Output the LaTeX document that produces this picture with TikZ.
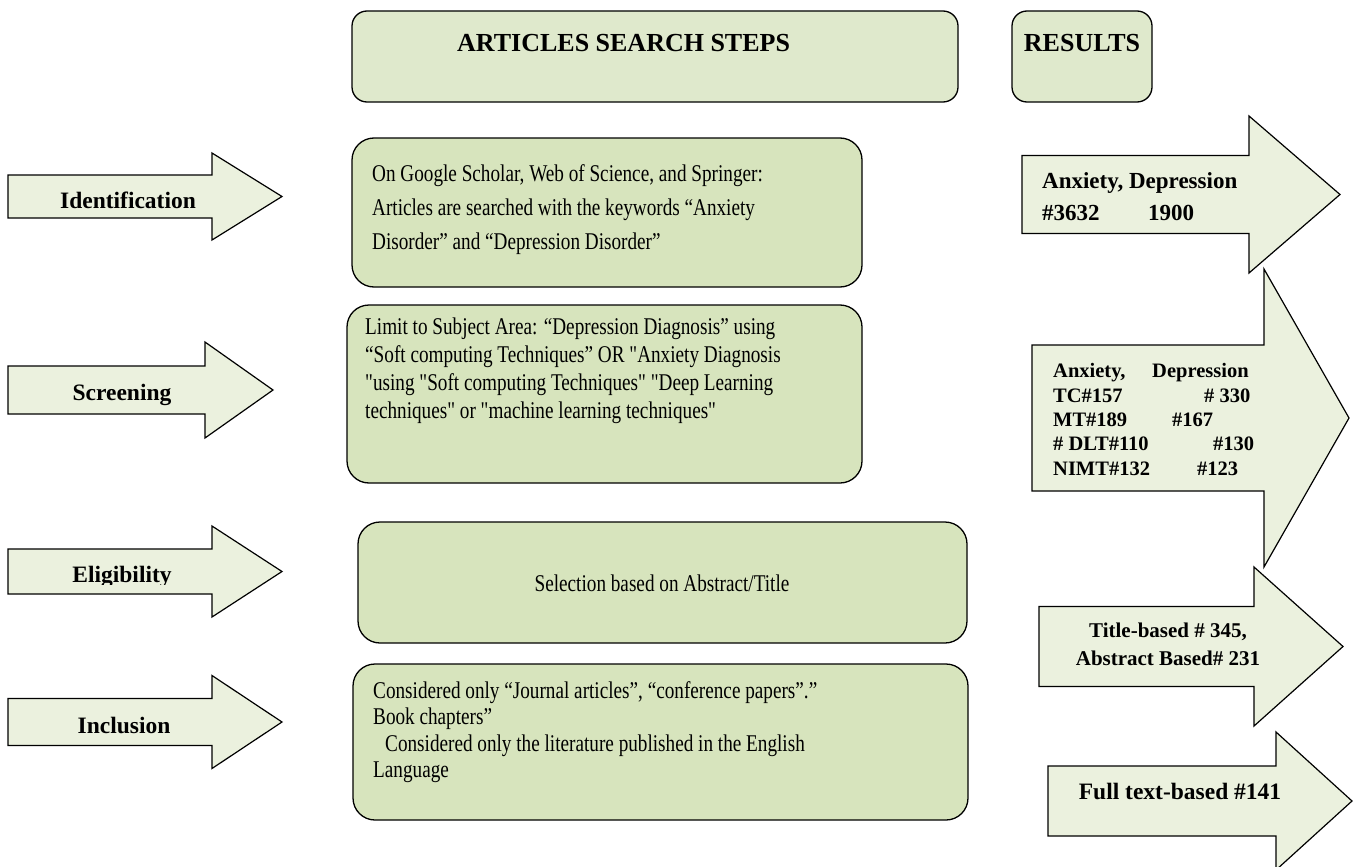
\documentclass[tikz,border=0pt]{standalone}
\usepackage{fontspec}
\setmainfont{Liberation Serif}
\newfontfamily\bodyfont{Liberation Serif}[FakeStretch=0.8]
\usetikzlibrary{positioning}

\definecolor{headgreen}{HTML}{DFE9CC}
\definecolor{boxgreen}{HTML}{D7E4BD}
\definecolor{arrowgreen}{HTML}{EBF1DE}

% block arrow: tail x, head base x, tip x, centre y, half shaft, half head
\newcommand{\blockarrow}[6]{%
  \draw[arrowshape] (#1,{#4-#5}) -- (#2,{#4-#5}) -- (#2,{#4-#6}) -- (#3,#4)
    -- (#2,{#4+#6}) -- (#2,{#4+#5}) -- (#1,{#4+#5}) -- cycle;}

\begin{document}
\begin{tikzpicture}[
      x=1pt,y=-1pt,
      headbox/.style = {draw,line width=1.3pt,rounded corners=15pt,fill=headgreen},
      stepbox/.style = {draw,line width=1.3pt,rounded corners=22pt,fill=boxgreen},
      arrowshape/.style = {draw,line width=1.2pt,fill=arrowgreen,line join=miter},
      steplabel/.style = {anchor=base,inner sep=0pt,font=\bfseries\fontsize{23.5}{26}\selectfont},
      resultlabel/.style = {inner sep=0pt,font=\bfseries\fontsize{21}{24}\selectfont},
      bodytext/.style = {anchor=north west,align=left,inner sep=0pt}
    ]
      \useasboundingbox (0,0) rectangle (1355,867);
      % headings
      \draw[headbox] (352,11) rectangle (958,102);
      \draw[headbox] (1012,11) rectangle (1152,102);
      \node (stepshead)[anchor=base west,inner sep=0pt,font=\bfseries\fontsize{26}{30}\selectfont] at (457,52) {ARTICLES SEARCH STEPS};
      \node (resultshead)[anchor=base,inner sep=0pt,font=\bfseries\fontsize{26}{30}\selectfont] at (1082,52) {RESULTS};
      % steps on the left
      \blockarrow{8}{212}{282}{196.5}{21.5}{43.5}
      \blockarrow{8}{205}{273}{390}{24}{48}
      \blockarrow{8}{212}{282}{571.5}{22.5}{45.5}
      \blockarrow{8}{212}{282}{722}{23.5}{46.5}
      \node (identification)[steplabel] at (128,208) {Identification};
      \node (screening)[steplabel] at (122,400) {Screening};
      \begin{scope}
        \clip (0,500) rectangle (300,584);
        \node (eligibility)[steplabel] at (122,582) {Eligibility};
      \end{scope}
      \node (inclusion)[steplabel] at (124,733) {Inclusion};
      % search steps
      \draw[stepbox] (352,138) rectangle (862,287);
      \draw[stepbox] (347,305) rectangle (862,483);
      \draw[stepbox] (358,522) rectangle (967,643);
      \draw[stepbox] (353,664) rectangle (968,820);
      \node (keywords)[bodytext,font=\bodyfont\fontsize{24}{34}\selectfont] at (372,164)
        {On Google Scholar, Web of Science, and Springer:\\
         Articles are searched with the keywords “Anxiety\\
         Disorder” and “Depression Disorder”};
      \node (subject)[bodytext,font=\bodyfont\fontsize{24}{28}\selectfont] at (365,318)
        {Limit to Subject Area: “Depression Diagnosis” using\\
         “Soft computing Techniques” OR "Anxiety Diagnosis\\
         "using "Soft computing Techniques" "Deep Learning\\
         techniques" or "machine learning techniques"};
      \node (selection)[inner sep=0pt,font=\bodyfont\fontsize{24}{28}\selectfont] at (662,583)
        {Selection based on Abstract/Title};
      \node (considered)[bodytext,font=\bodyfont\fontsize{24}{26.5}\selectfont] at (373,681)
        {Considered only “Journal articles”, “conference papers”.”\\
         Book chapters”\\
         \hspace*{12pt}Considered only the literature published in the English\\
         Language};
      % results on the right
      \blockarrow{1022}{1249}{1340}{194.5}{39}{78.5}
      \blockarrow{1032}{1264}{1349}{418}{73}{149}
      \blockarrow{1039}{1254}{1343}{646.5}{40}{79.5}
      \blockarrow{1048}{1276}{1352}{801}{35}{69}
      \node (found)[resultlabel,anchor=north west,align=left,font=\bfseries\fontsize{23}{32}\selectfont] at (1042,172.5)
        {Anxiety, Depression\\ \makebox[106pt][l]{\#3632}1900};
      \node (screened)[resultlabel,anchor=north west,align=left,font=\bfseries\fontsize{20.5}{24.3}\selectfont] at (1053,363.5)
        {\makebox[99pt][l]{Anxiety,}Depression\\
         \makebox[151pt][l]{TC\#157}\# 330\\
         \makebox[119pt][l]{MT\#189}\#167\\
         \makebox[160pt][l]{\# DLT\#110}\#130\\
         \makebox[144pt][l]{NIMT\#132}\#123};
      \node (selected)[resultlabel,anchor=north,align=center,font=\bfseries\fontsize{21}{28}\selectfont] at (1168,623)
        {Title-based \# 345,\\ Abstract Based\# 231};
      \node (fulltext)[resultlabel,anchor=base,font=\bfseries\fontsize{23.5}{26}\selectfont] at (1180,799)
        {Full text-based \#141};
    \end{tikzpicture}
\end{document}
